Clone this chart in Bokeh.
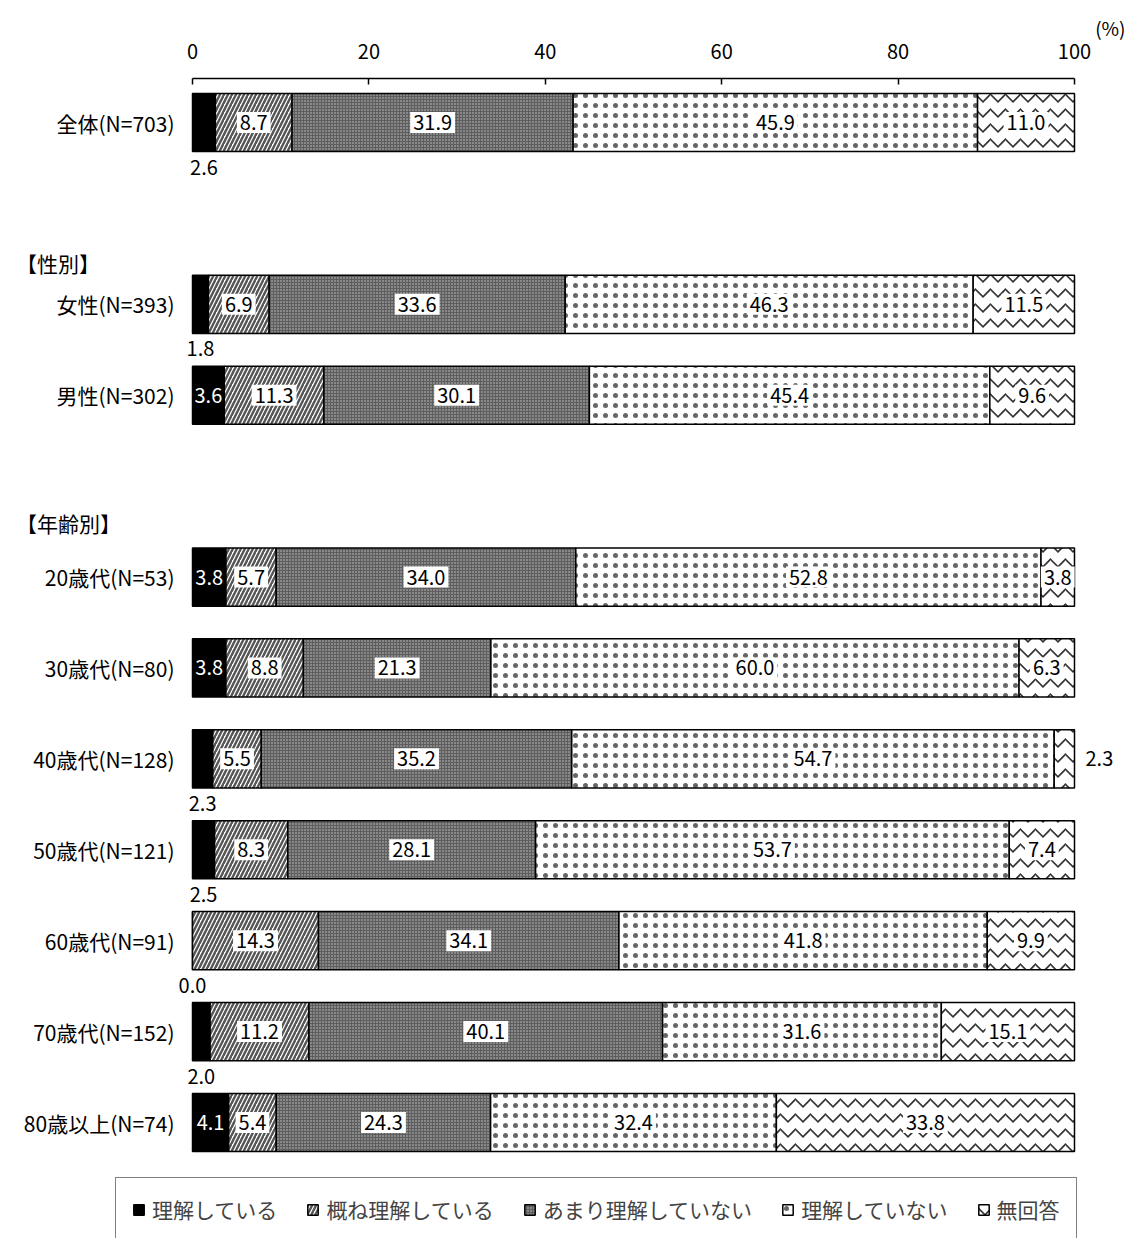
from bokeh.plotting import figure
from bokeh.models import ColumnDataSource, Range1d, FixedTicker, Legend, LegendItem
from bokeh.core.properties import value
from bokeh.embed import file_html
from bokeh.resources import INLINE

# ---------------- data ----------------
categories = ["全体(N=703)", "女性(N=393)", "男性(N=302)", "20歳代(N=53)", "30歳代(N=80)",
              "40歳代(N=128)", "50歳代(N=121)", "60歳代(N=91)", "70歳代(N=152)", "80歳以上(N=74)"]
series = ["理解している", "概ね理解している", "あまり理解していない", "理解していない", "無回答"]
understand = [2.6, 1.8, 3.6, 3.8, 3.8, 2.3, 2.5, 0.0, 2.0, 4.1]
mostly = [8.7, 6.9, 11.3, 5.7, 8.8, 5.5, 8.3, 14.3, 11.2, 5.4]
not_much = [31.9, 33.6, 30.1, 34.0, 21.3, 35.2, 28.1, 34.1, 40.1, 24.3]
not_understand = [45.9, 46.3, 45.4, 52.8, 60.0, 54.7, 53.7, 41.8, 31.6, 32.4]
no_answer = [11.0, 11.5, 9.6, 3.8, 6.3, 2.3, 7.4, 9.9, 15.1, 33.8]
x_ticks = [0, 20, 40, 60, 80, 100]
headers = ["【性別】", "【年齢別】"]
unit_label = "(%)"

# ---------------- layout ----------------
row_slots = [0, 2, 3, 5, 6, 7, 8, 9, 10, 11]
header_slots = [1.54, 4.41]
FONT = "Noto Sans CJK JP"
BAR_H = 0.64

p = figure(width=1129, height=1238, output_backend="svg", toolbar_location=None,
           x_axis_location="above", y_axis_location=None,
           x_range=Range1d(-21.769, 106.236), y_range=Range1d(12.276, -0.484),
           min_border_left=0, min_border_right=0, min_border_top=78, min_border_bottom=0,
           title=unit_label)
p.outline_line_color = None
p.grid.visible = False
p.background_fill_color = "white"

p.title.align = "right"
p.title.offset = 4
p.title.text_font = FONT
p.title.text_font_size = "19px"
p.title.text_font_style = "normal"
p.title.text_color = "black"
p.title.standoff = 0

ax = p.xaxis[0]
ax.bounds = (0, 100)
ax.ticker = FixedTicker(ticks=x_ticks)
ax.major_tick_in = 6
ax.major_tick_out = 0
ax.minor_tick_in = 0
ax.minor_tick_out = 0
ax.axis_line_color = "black"
ax.axis_line_width = 1.5
ax.major_tick_line_width = 1.5
ax.major_label_text_font = FONT
ax.major_label_text_font_size = "20px"
ax.major_label_text_color = "black"
ax.major_label_standoff = 20

vals = [understand, mostly, not_much, not_understand, no_answer]
n = len(categories)
totals = [sum(v[i] for v in vals) for i in range(n)]

styles = [
    dict(fill_color="black"),
    dict(fill_color="white", hatch_pattern="/", hatch_color="#555555", hatch_scale=8, hatch_weight=2.4),
    dict(fill_color="#5e5e5e", hatch_pattern=".", hatch_color="#c8c8c8", hatch_scale=3, hatch_weight=1.5),
    dict(fill_color="white", hatch_pattern=".", hatch_color="#666666", hatch_scale=10, hatch_weight=1.4),
    dict(fill_color="white", hatch_pattern="v", hatch_color="#333333", hatch_scale=15, hatch_weight=1.6),
]

cum = [0.0] * n
renderers = []
inside = dict(x=[], y=[], t=[])
inside_w = dict(x=[], y=[], t=[])
below = dict(x=[], y=[], t=[])
right = dict(x=[], y=[], t=[])
for k, v in enumerate(vals):
    left = [cum[i] for i in range(n)]
    rgt = [cum[i] + v[i] / totals[i] * 100 for i in range(n)]
    cum = rgt
    src = ColumnDataSource(dict(y=row_slots, left=left, right=rgt))
    r = p.hbar(y="y", left="left", right="right", height=BAR_H, source=src,
               line_color="black", line_width=1.5, **styles[k])
    renderers.append(r)
    for i in range(n):
        c = (left[i] + rgt[i]) / 2
        t = f"{v[i]:.1f}"
        if k == 0:
            if v[i] < 3:
                below["x"].append(c); below["y"].append(row_slots[i] + 0.49); below["t"].append(t)
            else:
                inside_w["x"].append(c); inside_w["y"].append(row_slots[i]); inside_w["t"].append(t)
        elif k == 4 and v[i] < 3:
            right["x"].append(rgt[i] + 1.25); right["y"].append(row_slots[i]); right["t"].append(t)
        else:
            inside["x"].append(c); inside["y"].append(row_slots[i]); inside["t"].append(t)

common = dict(x="x", y="y", text="t", text_font=value(FONT), text_font_size="20px",
              text_baseline="middle")
p.text(source=ColumnDataSource(inside), text_align="center", text_color="black",
       background_fill_color="white", padding=3, **common)
p.text(source=ColumnDataSource(inside_w), text_align="center", text_color="white", **common)
p.text(source=ColumnDataSource(below), text_align="center", text_color="black", **common)
p.text(source=ColumnDataSource(right), text_align="left", text_color="black", **common)

# category labels
p.text(x=[-2.04] * n, y=row_slots, text=categories, text_font=value(FONT), text_font_size="21px",
       text_align="right", text_baseline="middle", text_color="black")
# group headers
p.text(x=[-20.0] * len(headers), y=header_slots, text=headers, text_font=value(FONT),
       text_font_size="21px", text_align="left", text_baseline="middle", text_color="black")

legend = Legend(items=[LegendItem(label=series[k], renderers=[renderers[k]]) for k in range(5)],
                orientation="horizontal", location=(115, -3), border_line_color="black",
                border_line_width=1.5, padding=16, spacing=29, glyph_width=13, glyph_height=13,
                label_standoff=7, label_text_font=FONT, label_text_font_size="21px",
                margin=0, background_fill_color="white", background_fill_alpha=1)
p.add_layout(legend)

open("out.html", "w").write(file_html(p, INLINE))
